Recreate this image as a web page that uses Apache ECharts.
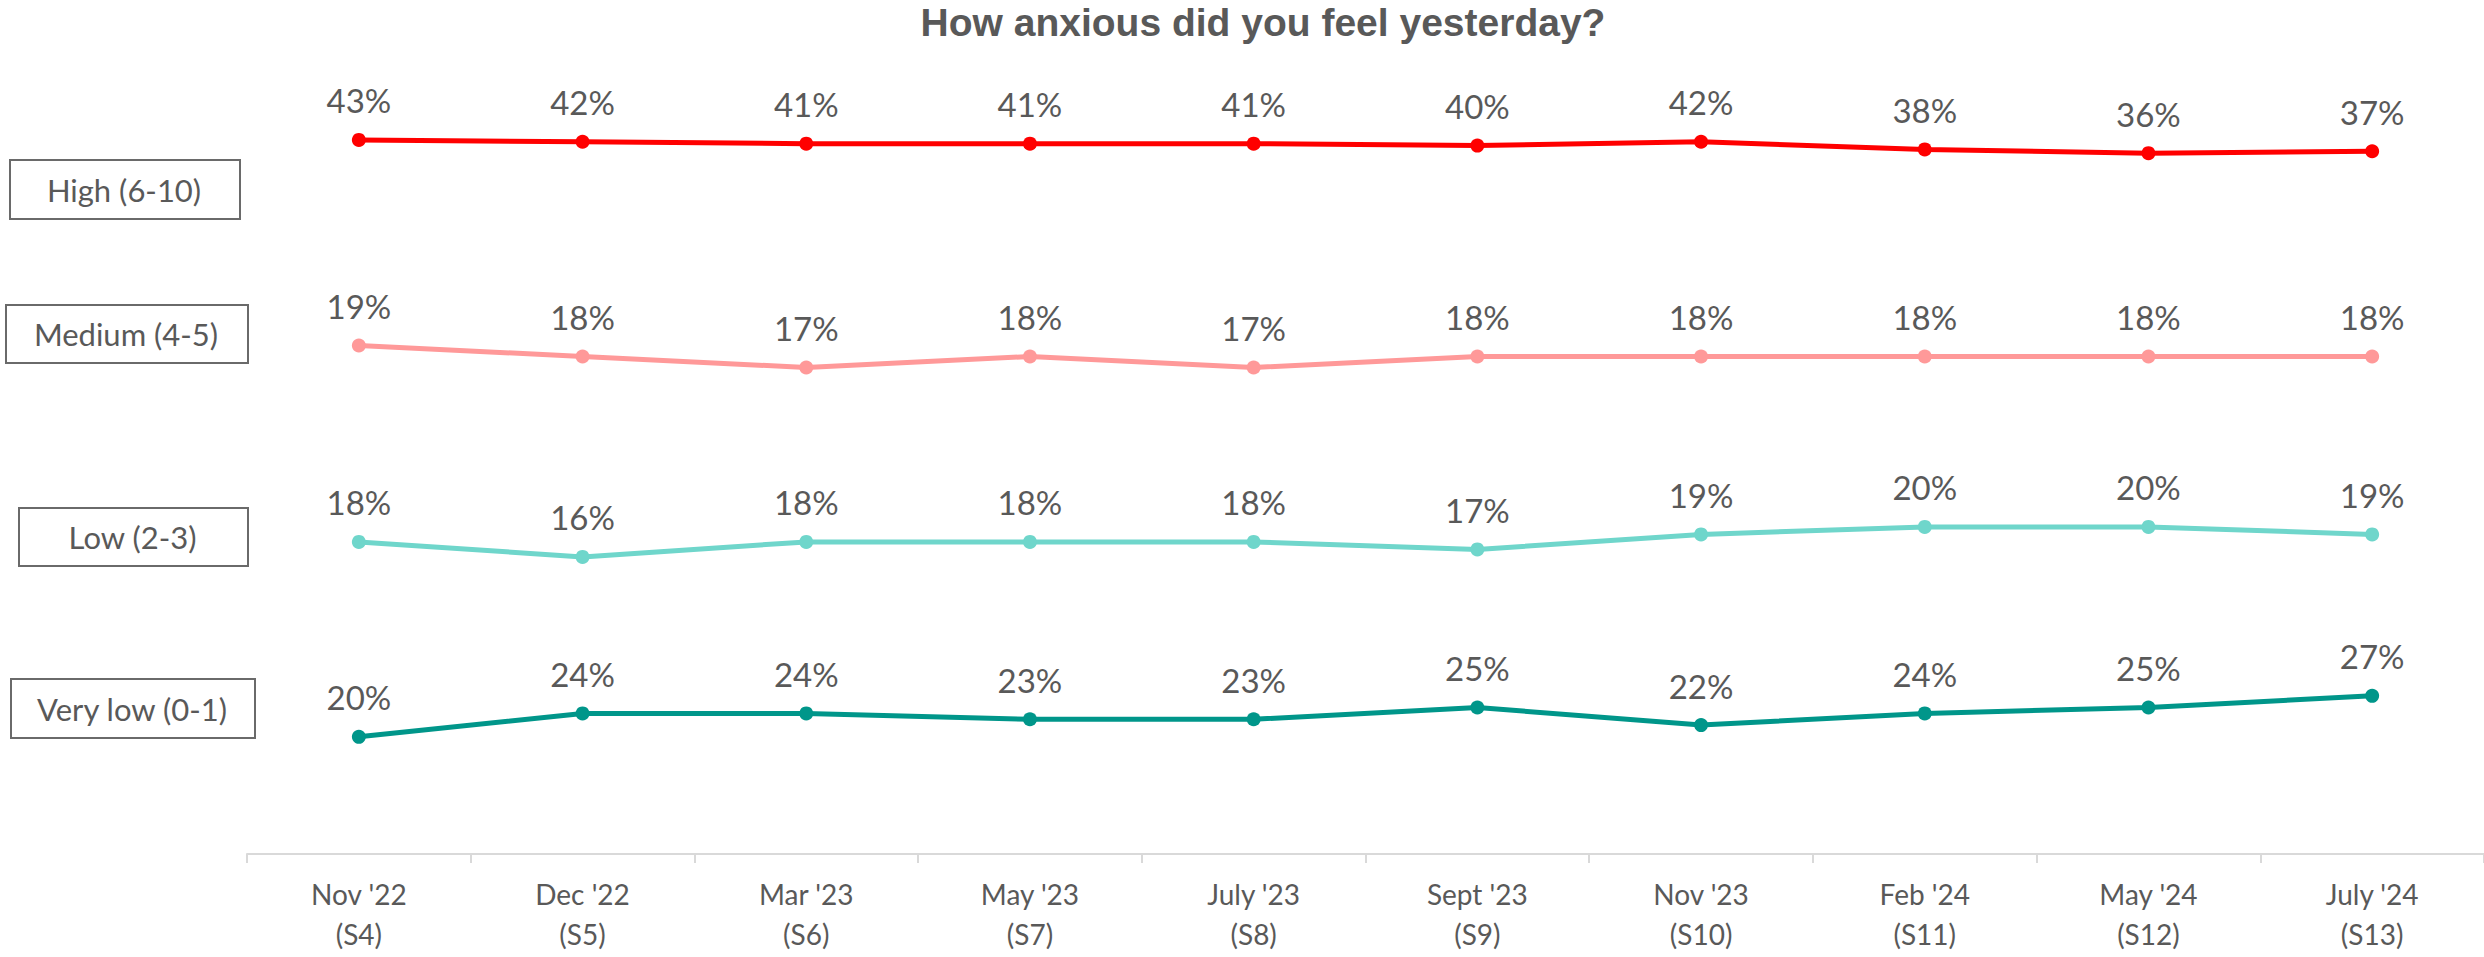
<!DOCTYPE html>
<html>
<head>
<meta charset="utf-8">
<script src="https://cdn.jsdelivr.net/npm/echarts@6/dist/echarts.min.js"></script>
<style>
html,body{margin:0;padding:0;background:#fff;}
#chart{width:2484px;height:957px;}
</style>
</head>
<body>
<div id="chart"></div>
<script>
const categories = ["Nov '22\n(S4)", "Dec '22\n(S5)", "Mar '23\n(S6)", "May '23\n(S7)", "July '23\n(S8)", "Sept '23\n(S9)", "Nov '23\n(S10)", "Feb '24\n(S11)", "May '24\n(S12)", "July '24\n(S13)"];
const seriesNames = ["High (6-10)", "Medium (4-5)", "Low (2-3)", "Very low (0-1)"];
const high    = [43, 42, 41, 41, 41, 40, 42, 38, 36, 37];
const medium  = [19, 18, 17, 18, 17, 18, 18, 18, 18, 18];
const low     = [18, 16, 18, 18, 18, 17, 19, 20, 20, 19];
const veryLow = [20, 24, 24, 23, 23, 25, 22, 24, 25, 27];
const titleText = "How anxious did you feel yesterday?";

const colors = ['#FF0000', '#FF9999', '#6FD6CB', '#00968A'];
// each band uses its own hidden value axis (independent scaling)
const axisRanges = [[-333, 64], [-27.2, 41.3], [-23.6, 76.9], [0, 128.7]];
const seriesData = [high, medium, low, veryLow];

const chart = echarts.init(document.getElementById('chart'), null, {renderer: 'svg'});

const labelBoxes = [
  {x: 9, y: 159, w: 230, h: 59},
  {x: 5, y: 304, w: 242, h: 58},
  {x: 18, y: 507, w: 229, h: 58},
  {x: 10, y: 678, w: 244, h: 59}
];

const graphics = [];
labelBoxes.forEach((b, i) => {
  graphics.push({
    type: 'rect', left: b.x, top: b.y,
    shape: {width: b.w, height: b.h},
    style: {fill: '#fff', stroke: '#6a6a6a', lineWidth: 2},
    z: 10
  });
  graphics.push({
    type: 'text', x: b.x + b.w / 2, y: b.y + b.h / 2 + 1,
    style: {text: seriesNames[i], fill: '#595959', font: '31px Lato', align: 'center', verticalAlign: 'middle'},
    z: 11
  });
});
graphics.push({
  type: 'text', x: 1263, y: 22,
  style: {text: titleText, fill: '#595959', font: 'bold 39px "Liberation Sans", Arial', align: 'center', verticalAlign: 'middle'},
  z: 11
});

const option = {
  animation: false,
  backgroundColor: '#fff',
  grid: {left: 247, right: 0, top: 100, bottom: 103, containLabel: false},
  xAxis: {
    type: 'category',
    data: categories,
    boundaryGap: true,
    axisLine: {show: true, onZero: false, lineStyle: {color: '#D9D9D9', width: 2}},
    axisTick: {show: true, length: 9, lineStyle: {color: '#D9D9D9', width: 2}},
    axisLabel: {color: '#595959', fontFamily: 'Lato', fontSize: 28, lineHeight: 40, margin: 20, interval: 0}
  },
  yAxis: axisRanges.map(r => ({type: 'value', min: r[0], max: r[1], show: false, splitLine: {show: false}})),
  series: seriesData.map((d, i) => ({
    name: seriesNames[i],
    type: 'line',
    yAxisIndex: i,
    data: d,
    symbol: 'circle',
    symbolSize: 14,
    showAllSymbol: true,
    lineStyle: {color: colors[i], width: 5},
    itemStyle: {color: colors[i]},
    label: {
      show: true, position: 'top', distance: 16,
      formatter: p => p.value + '%',
      color: '#595959', fontFamily: 'Lato', fontSize: 33
    }
  })),
  graphic: graphics
};
chart.setOption(option);
</script>
</body>
</html>
